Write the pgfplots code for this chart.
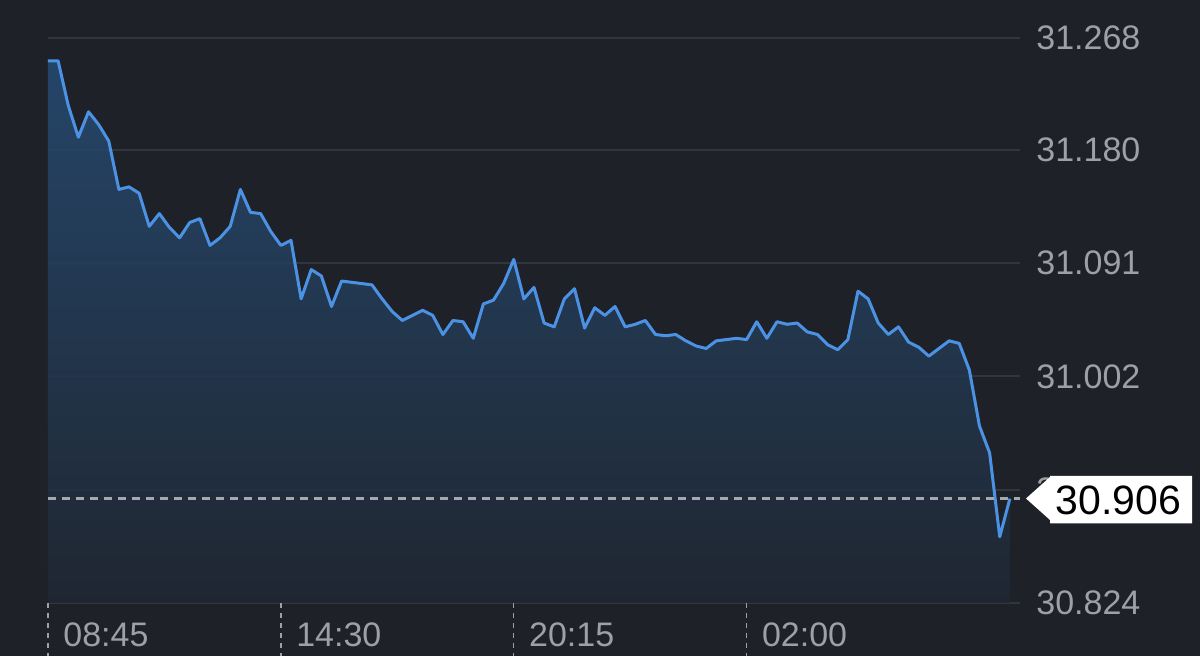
\documentclass[border=0pt]{standalone}
\usepackage{pgfplots}
\pgfplotsset{compat=1.18}
\usepackage{pgfplotstable}
\usepackage{fontspec}
\setmainfont{Liberation Sans}
\definecolor{bg}{RGB}{31,33,41}
\definecolor{gridc}{RGB}{50,53,62}
\definecolor{linec}{RGB}{76,146,228}
\definecolor{ftop}{RGB}{38,76,116}
\definecolor{fbot}{RGB}{32,40,51}
\definecolor{tickc}{RGB}{158,160,165}
\definecolor{dashc}{RGB}{165,168,175}
\pgfplotstableread{
x y
0 31.250
1 31.250
2 31.215
3 31.190
4 31.210
5 31.200
6 31.187
7 31.149
8 31.151
9 31.146
10 31.120
11 31.130
12 31.119
13 31.111
14 31.123
15 31.126
16 31.105
17 31.111
18 31.120
19 31.149
20 31.131
21 31.130
22 31.116
23 31.105
24 31.109
25 31.063
26 31.086
27 31.081
28 31.057
29 31.077
30 31.076
31 31.075
32 31.074
33 31.063
34 31.053
35 31.046
36 31.050
37 31.054
38 31.050
39 31.035
40 31.046
41 31.045
42 31.032
43 31.059
44 31.062
45 31.075
46 31.094
47 31.063
48 31.072
49 31.044
50 31.041
51 31.063
52 31.071
53 31.040
54 31.056
55 31.050
56 31.057
57 31.041
58 31.043
59 31.046
60 31.035
61 31.034
62 31.035
63 31.030
64 31.026
65 31.024
66 31.030
67 31.031
68 31.032
69 31.031
70 31.045
71 31.032
72 31.045
73 31.043
74 31.044
75 31.037
76 31.035
77 31.027
78 31.023
79 31.031
80 31.069
81 31.063
82 31.044
83 31.035
84 31.041
85 31.029
86 31.025
87 31.018
88 31.024
89 31.030
90 31.028
91 31.007
92 30.963
93 30.942
94 30.876
95 30.906
}\pricedata
\begin{document}
\begin{tikzpicture}
\fill[bg] (0pt,0pt) rectangle (600pt,328pt);
\useasboundingbox (0pt,0pt) rectangle (600pt,328pt);
\begin{axis}[
  at={(24pt,26.5pt)}, anchor=south west,
  scale only axis, width=486pt, height=282.5pt,
  xmin=0, xmax=96, ymin=30.824, ymax=31.268,
  axis line style={draw=none},
  major tick length=0pt,
  ytick={30.824,30.913,31.002,31.091,31.180,31.268},
  yticklabels={30.824,30.913,31.002,31.091,31.180,31.268},
  yticklabel pos=right,
  ymajorgrids,
  grid style={gridc, line width=1pt},
  xtick={0,23,46,69},
  xticklabels={08:45,14:30,20:15,02:00},
  tick label style={font=\fontsize{17}{20}\selectfont, text=tickc},
  yticklabel style={anchor=west, inner sep=0pt, xshift=8pt},
  xticklabel style={anchor=west, inner sep=0pt, xshift=7.5pt, yshift=-16pt},
  clip=false,
]
\addplot[top color=ftop, bottom color=fbot, draw=none, fill opacity=0.85] table[x=x,y=y]{\pricedata} -- (axis cs:95,30.824) -- (axis cs:0,30.824) -- cycle;
\addplot[linec, line width=1.5pt, line join=round] table[x=x,y=y]{\pricedata};
\draw[dashc, line width=1.2pt, dash pattern=on 4pt off 3pt] (axis cs:0,30.906) -- (axis cs:96,30.906);
\pgfplotsinvokeforeach{0,23,46,69}{
  \draw[tickc, line width=0.7pt, dash pattern=on 2.5pt off 2.5pt] (axis cs:#1,30.824) -- ++(0pt,-27pt);
}
\end{axis}
\fill[white] (513pt,78.75pt) -- (525pt,89.5pt) -- (525pt,90pt) -- (596pt,90pt) -- (596pt,66.25pt) -- (525pt,66.25pt) -- (525pt,68pt) -- cycle;
\node[text=black, inner sep=0pt, font=\fontsize{20.5}{24}\selectfont] at (559.25pt,78pt) {30.906};
\end{tikzpicture}
\end{document}
